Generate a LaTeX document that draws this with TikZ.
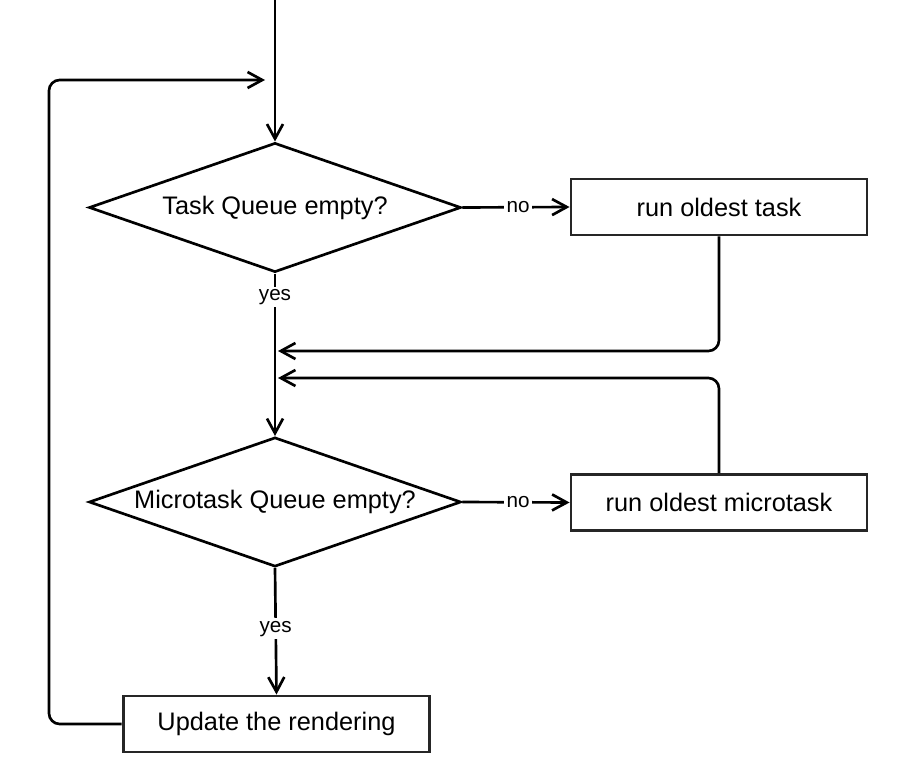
\documentclass[tikz,border=0pt]{standalone}
\usepackage{fontspec}
\setmainfont{Liberation Sans}
\usetikzlibrary{shapes.geometric, arrows.meta, positioning}

\begin{document}
\begin{tikzpicture}[x=0.75pt, y=-0.75pt, line width=2pt, >={Straight Barb[length=11pt,width=12pt]}]
    \tikzstyle{decision} = [diamond, draw, aspect=2.88, inner sep=0pt, minimum width=279pt, minimum height=97pt, font=\fontsize{19}{22}\selectfont]
    \tikzstyle{process} = [rectangle, draw=black!85, line width=2.2pt, fill=white, minimum width=222pt, minimum height=42pt, font=\fontsize{19}{22}\selectfont]
    \tikzstyle{lbl} = [fill=white, inner sep=2pt, font=\fontsize{15.5}{17}\selectfont]

    \useasboundingbox (0,0) rectangle (899,763);

    \node[decision] (task) at (275,207.5) {Task Queue empty?};
    \node[decision] (micro) at (275,502) {Microtask Queue empty?};

    \node[process] (runtask) at (719,207) {run oldest task};
    \node[process] (runmicro) at (719,502.5) {run oldest microtask};
    \node[process, minimum width=230pt] (render) at (276.5,724) {Update the rendering};

    \coordinate (start) at (275,0);
    \coordinate (back1) at (278,351);
    \coordinate (back2) at (278,378);
    \coordinate (corner) at (49,80);
    \coordinate (loop) at (265,80);

    \draw[->] (start) -- (task.north);
    \draw[->] (task.east) -- node[lbl, pos=0.52] {no} (runtask.west);
    \draw[->] (task.south) -- node[lbl, pos=0.145] {yes} (micro.north);
    \draw[->, rounded corners=8pt] (runtask.south) |- (back1);
    \draw[->, rounded corners=8pt] (runmicro.north) |- (back2);
    \draw[->] (micro.east) -- node[lbl, pos=0.52] {no} (runmicro.west);
    \draw[->] (micro.south) -- node[lbl, pos=0.48] {yes} (render.north);
    \draw[->, rounded corners=8pt] (render.west) -| (corner) -- (loop);
\end{tikzpicture}
\end{document}
